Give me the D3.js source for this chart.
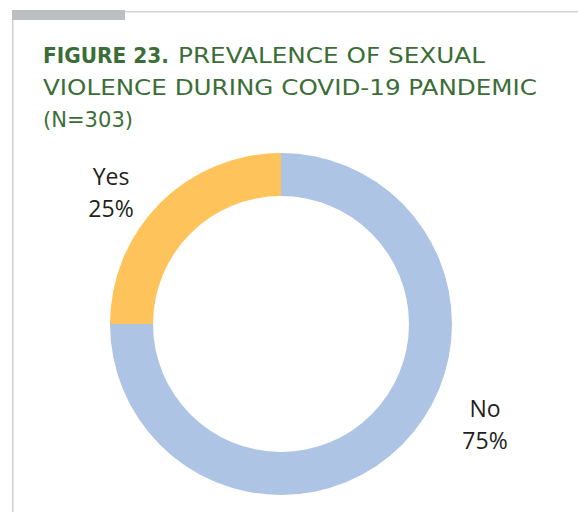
<!DOCTYPE html>
<html><head><meta charset="utf-8">
<script src="https://cdn.jsdelivr.net/npm/d3@7"></script>
<style>html,body{margin:0;padding:0;background:#fff;}svg{display:block;}</style>
</head><body>
<svg id="c" width="578" height="512"></svg>
<script>
const categories = ["No", "Yes"];
const values = [75, 25];
const labels = ["75%", "25%"];
const colors = ["#AEC4E5", "#FEC45B"];

const svg = d3.select("#c");
// frame decorations
svg.append("rect").attr("x", 12).attr("y", 10).attr("width", 113).attr("height", 10).attr("fill", "#BDBEC2");
svg.append("rect").attr("x", 125).attr("y", 11).attr("width", 453).attr("height", 1.5).attr("fill", "#D3D3D5");
svg.append("rect").attr("x", 12).attr("y", 20).attr("width", 1.5).attr("height", 492).attr("fill", "#CFCFD1");

// title
const green = "#3B6E37";
const tf = "'DejaVu Sans', sans-serif";
function tline(txt, x, y, len, weight) {
  svg.append("text").attr("x", x).attr("y", y).attr("fill", green)
    .attr("font-family", tf).attr("font-size", 21).attr("font-weight", weight)
    .attr("textLength", len).attr("lengthAdjust", "spacingAndGlyphs").text(txt);
}
tline("FIGURE 23.", 43, 63, 126, "bold");
tline("PREVALENCE OF SEXUAL", 178, 63, 307, "normal");
tline("VIOLENCE DURING COVID-19 PANDEMIC", 43, 95, 494, "normal");
tline("(N=303)", 43, 127, 90, "normal");

// donut
const cx = 281, cy = 324, ro = 171, ri = 128;
const pie = d3.pie().sort(null).value(d => d.v);
const data = categories.map((c, i) => ({c, v: values[i], l: labels[i], col: colors[i]}));
const arc = d3.arc().innerRadius(ri).outerRadius(ro);
const g = svg.append("g").attr("transform", `translate(${cx},${cy})`);
g.selectAll("path").data(pie(data)).join("path").attr("d", arc).attr("fill", d => d.data.col);

// labels
const labelPos = {"No": [485, 417], "Yes": [111, 185]};
data.forEach(d => {
  const [x, y] = labelPos[d.c];
  const t = svg.append("text").attr("x", x).attr("y", y).attr("text-anchor", "middle")
    .attr("font-family", "'Open Sans', sans-serif").attr("font-size", 23).attr("fill", "#231F20");
  t.append("tspan").attr("x", x).text(d.c);
  t.append("tspan").attr("x", x).attr("dy", 32).text(d.l);
});
</script>
</body></html>
